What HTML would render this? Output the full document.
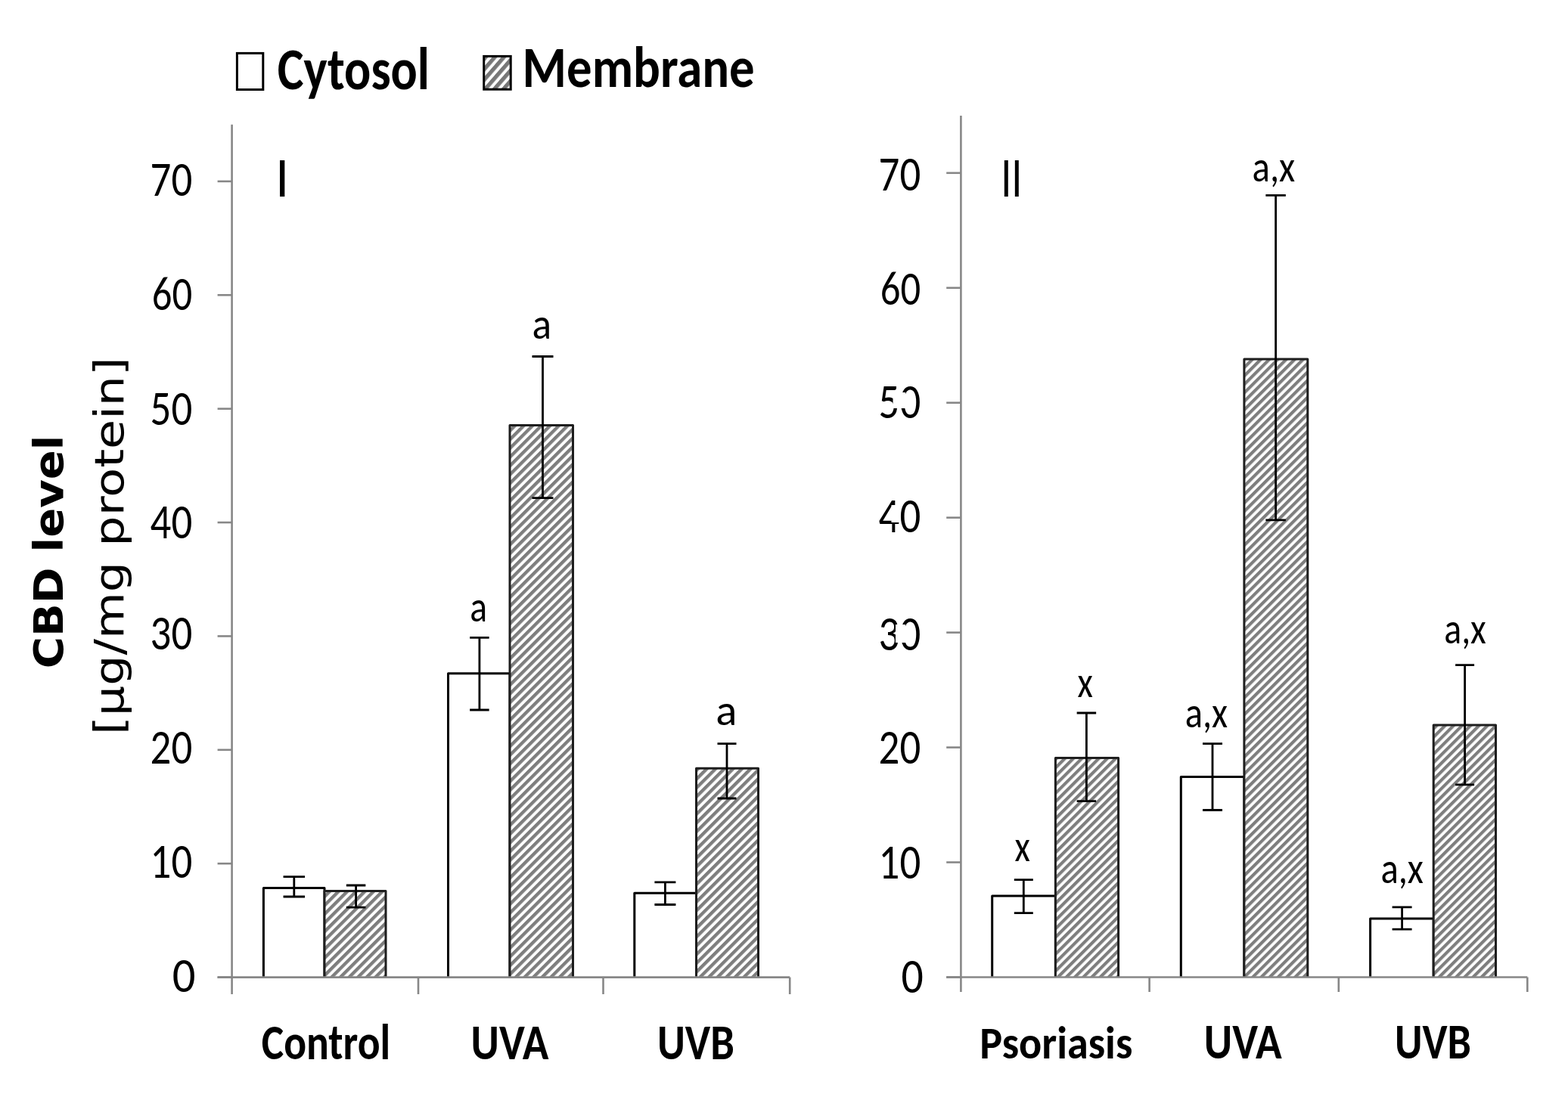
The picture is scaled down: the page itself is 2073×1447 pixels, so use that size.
<!DOCTYPE html>
<html><head><meta charset="utf-8"><title>CBD level chart</title>
<style>
html,body{margin:0;padding:0;background:#fff;}
body{width:2073px;height:1447px;overflow:hidden;}
svg{display:block;position:absolute;left:0;top:0;}
text.cr{font-size-adjust:cap-height 0.6416;}
text.cb{font-size-adjust:cap-height 0.6484;}
</style></head>
<body>
<svg width="2073" height="1447" viewBox="0 0 2073 1447">
<defs>
<pattern id="hatch" patternUnits="userSpaceOnUse" width="8.2" height="20" patternTransform="rotate(45)">
<rect width="8.2" height="20" fill="#fff"/><rect width="4.35" height="20" fill="#7e7e7e"/>
</pattern>
<pattern id="hatch2" patternUnits="userSpaceOnUse" width="7.92" height="20" patternTransform="rotate(45)">
<rect width="7.92" height="20" fill="#fff"/><rect width="4.2" height="20" fill="#7e7e7e"/>
</pattern>
<pattern id="hatchL" patternUnits="userSpaceOnUse" width="9.1" height="20" patternTransform="translate(640 74) rotate(41)">
<rect width="9.1" height="20" fill="#fff"/><rect width="5.2" height="20" fill="#777"/>
</pattern>
</defs>
<rect width="2073" height="1447" fill="#fff"/>
<rect x="348.40" y="1174.50" width="80.60" height="118.10" fill="#fff"/>
<path d="M348.40 1292.60V1174.50H429.00V1292.60" fill="none" stroke="#000" stroke-width="3.0" stroke-linejoin="round"/>
<rect x="429.00" y="1178.40" width="81.00" height="114.20" fill="url(#hatch)"/>
<path d="M429.00 1292.60V1178.40H510.00V1292.60" fill="none" stroke="#1e1e1e" stroke-width="3.0" stroke-linejoin="round"/>
<rect x="592.50" y="890.70" width="81.50" height="401.90" fill="#fff"/>
<path d="M592.50 1292.60V890.70H674.00V1292.60" fill="none" stroke="#000" stroke-width="3.0" stroke-linejoin="round"/>
<rect x="674.00" y="562.50" width="83.50" height="730.10" fill="url(#hatch)"/>
<path d="M674.00 1292.60V562.50H757.50V1292.60" fill="none" stroke="#1e1e1e" stroke-width="3.0" stroke-linejoin="round"/>
<rect x="838.80" y="1181.30" width="81.70" height="111.30" fill="#fff"/>
<path d="M838.80 1292.60V1181.30H920.50V1292.60" fill="none" stroke="#000" stroke-width="3.0" stroke-linejoin="round"/>
<rect x="920.50" y="1016.20" width="82.00" height="276.40" fill="url(#hatch)"/>
<path d="M920.50 1292.60V1016.20H1002.50V1292.60" fill="none" stroke="#1e1e1e" stroke-width="3.0" stroke-linejoin="round"/>
<rect x="1311.70" y="1185.00" width="83.70" height="107.50" fill="#fff"/>
<path d="M1311.70 1292.50V1185.00H1395.40V1292.50" fill="none" stroke="#000" stroke-width="3.0" stroke-linejoin="round"/>
<rect x="1395.40" y="1002.40" width="83.20" height="290.10" fill="url(#hatch2)"/>
<path d="M1395.40 1292.50V1002.40H1478.60V1292.50" fill="none" stroke="#1e1e1e" stroke-width="3.0" stroke-linejoin="round"/>
<rect x="1561.30" y="1027.60" width="83.60" height="264.90" fill="#fff"/>
<path d="M1561.30 1292.50V1027.60H1644.90V1292.50" fill="none" stroke="#000" stroke-width="3.0" stroke-linejoin="round"/>
<rect x="1644.90" y="475.00" width="83.90" height="817.50" fill="url(#hatch2)"/>
<path d="M1644.90 1292.50V475.00H1728.80V1292.50" fill="none" stroke="#1e1e1e" stroke-width="3.0" stroke-linejoin="round"/>
<rect x="1811.60" y="1214.90" width="83.60" height="77.60" fill="#fff"/>
<path d="M1811.60 1292.50V1214.90H1895.20V1292.50" fill="none" stroke="#000" stroke-width="3.0" stroke-linejoin="round"/>
<rect x="1895.20" y="959.10" width="82.30" height="333.40" fill="url(#hatch2)"/>
<path d="M1895.20 1292.50V959.10H1977.50V1292.50" fill="none" stroke="#1e1e1e" stroke-width="3.0" stroke-linejoin="round"/>
<line x1="306.6" y1="164.8" x2="306.6" y2="1315.0" stroke="#878787" stroke-width="2.6"/>
<line x1="287.6" y1="1292.6" x2="1044.2" y2="1292.6" stroke="#878787" stroke-width="2.6"/>
<line x1="287.6" y1="1292.60" x2="306.6" y2="1292.60" stroke="#878787" stroke-width="2.6"/>
<line x1="287.6" y1="1142.21" x2="306.6" y2="1142.21" stroke="#878787" stroke-width="2.6"/>
<line x1="287.6" y1="991.82" x2="306.6" y2="991.82" stroke="#878787" stroke-width="2.6"/>
<line x1="287.6" y1="841.43" x2="306.6" y2="841.43" stroke="#878787" stroke-width="2.6"/>
<line x1="287.6" y1="691.04" x2="306.6" y2="691.04" stroke="#878787" stroke-width="2.6"/>
<line x1="287.6" y1="540.65" x2="306.6" y2="540.65" stroke="#878787" stroke-width="2.6"/>
<line x1="287.6" y1="390.26" x2="306.6" y2="390.26" stroke="#878787" stroke-width="2.6"/>
<line x1="287.6" y1="239.87" x2="306.6" y2="239.87" stroke="#878787" stroke-width="2.6"/>
<line x1="553.0" y1="1292.6" x2="553.0" y2="1315.0" stroke="#878787" stroke-width="2.6"/>
<line x1="797.5" y1="1292.6" x2="797.5" y2="1315.0" stroke="#878787" stroke-width="2.6"/>
<line x1="1044.2" y1="1292.6" x2="1044.2" y2="1315.0" stroke="#878787" stroke-width="2.6"/>
<line x1="1270.4" y1="152.9" x2="1270.4" y2="1312.0" stroke="#878787" stroke-width="2.6"/>
<line x1="1251.2" y1="1292.5" x2="2019.3" y2="1292.5" stroke="#878787" stroke-width="2.6"/>
<line x1="1251.2" y1="1292.50" x2="1270.4" y2="1292.50" stroke="#878787" stroke-width="2.6"/>
<line x1="1251.2" y1="1140.54" x2="1270.4" y2="1140.54" stroke="#878787" stroke-width="2.6"/>
<line x1="1251.2" y1="988.58" x2="1270.4" y2="988.58" stroke="#878787" stroke-width="2.6"/>
<line x1="1251.2" y1="836.62" x2="1270.4" y2="836.62" stroke="#878787" stroke-width="2.6"/>
<line x1="1251.2" y1="684.66" x2="1270.4" y2="684.66" stroke="#878787" stroke-width="2.6"/>
<line x1="1251.2" y1="532.70" x2="1270.4" y2="532.70" stroke="#878787" stroke-width="2.6"/>
<line x1="1251.2" y1="380.74" x2="1270.4" y2="380.74" stroke="#878787" stroke-width="2.6"/>
<line x1="1251.2" y1="228.78" x2="1270.4" y2="228.78" stroke="#878787" stroke-width="2.6"/>
<line x1="1519.6" y1="1292.5" x2="1519.6" y2="1312.0" stroke="#878787" stroke-width="2.6"/>
<line x1="1769.8" y1="1292.5" x2="1769.8" y2="1312.0" stroke="#878787" stroke-width="2.6"/>
<line x1="2019.3" y1="1292.5" x2="2019.3" y2="1312.0" stroke="#878787" stroke-width="2.6"/>
<path d="M388.80 1159.70V1186.00M374.55 1159.70H403.05M374.55 1186.00H403.05" stroke="#000" stroke-width="2.8" fill="none"/>
<path d="M470.60 1171.00V1200.20M457.85 1171.00H483.35M457.85 1200.20H483.35" stroke="#000" stroke-width="2.8" fill="none"/>
<path d="M633.90 843.40V939.00M621.15 843.40H646.65M621.15 939.00H646.65" stroke="#000" stroke-width="2.8" fill="none"/>
<path d="M717.50 471.50V658.60M703.50 471.50H731.50M703.50 658.60H731.50" stroke="#000" stroke-width="2.8" fill="none"/>
<path d="M879.40 1166.90V1196.50M865.40 1166.90H893.40M865.40 1196.50H893.40" stroke="#000" stroke-width="2.8" fill="none"/>
<path d="M961.00 983.60V1056.00M948.50 983.60H973.50M948.50 1056.00H973.50" stroke="#000" stroke-width="2.8" fill="none"/>
<path d="M1353.30 1163.60V1207.60M1340.80 1163.60H1365.80M1340.80 1207.60H1365.80" stroke="#000" stroke-width="2.8" fill="none"/>
<path d="M1436.40 943.00V1059.70M1423.65 943.00H1449.15M1423.65 1059.70H1449.15" stroke="#000" stroke-width="2.8" fill="none"/>
<path d="M1603.00 983.60V1071.50M1590.00 983.60H1616.00M1590.00 1071.50H1616.00" stroke="#000" stroke-width="2.8" fill="none"/>
<path d="M1686.60 258.40V687.80M1673.35 258.40H1699.85M1673.35 687.80H1699.85" stroke="#000" stroke-width="2.8" fill="none"/>
<path d="M1853.60 1199.80V1229.20M1840.60 1199.80H1866.60M1840.60 1229.20H1866.60" stroke="#000" stroke-width="2.8" fill="none"/>
<path d="M1936.60 879.70V1037.80M1924.10 879.70H1949.10M1924.10 1037.80H1949.10" stroke="#000" stroke-width="2.8" fill="none"/>
<text class="cr" x="227.83" y="1312.05" font-family="Carlito, 'Liberation Sans', sans-serif" font-weight="normal" font-size="66.49" textLength="30.74" lengthAdjust="spacingAndGlyphs" fill="#000">0</text>
<text class="cr" x="198.62" y="1161.15" font-family="Carlito, 'Liberation Sans', sans-serif" font-weight="normal" font-size="66.49" textLength="55.60" lengthAdjust="spacingAndGlyphs" fill="#000">10</text>
<text class="cr" x="198.62" y="1010.35" font-family="Carlito, 'Liberation Sans', sans-serif" font-weight="normal" font-size="66.49" textLength="55.60" lengthAdjust="spacingAndGlyphs" fill="#000">20</text>
<text class="cr" x="198.62" y="859.45" font-family="Carlito, 'Liberation Sans', sans-serif" font-weight="normal" font-size="66.49" textLength="55.60" lengthAdjust="spacingAndGlyphs" fill="#000">30</text>
<text class="cr" x="198.62" y="711.85" font-family="Carlito, 'Liberation Sans', sans-serif" font-weight="normal" font-size="66.49" textLength="55.60" lengthAdjust="spacingAndGlyphs" fill="#000">40</text>
<text class="cr" x="198.62" y="561.55" font-family="Carlito, 'Liberation Sans', sans-serif" font-weight="normal" font-size="66.49" textLength="55.60" lengthAdjust="spacingAndGlyphs" fill="#000">50</text>
<text class="cr" x="200.75" y="410.23" font-family="Carlito, 'Liberation Sans', sans-serif" font-weight="normal" font-size="63.87" textLength="53.41" lengthAdjust="spacingAndGlyphs" fill="#000">60</text>
<text class="cr" x="198.62" y="259.45" font-family="Carlito, 'Liberation Sans', sans-serif" font-weight="normal" font-size="66.49" textLength="55.60" lengthAdjust="spacingAndGlyphs" fill="#000">70</text>
<text class="cr" x="1191.40" y="1312.55" font-family="Carlito, 'Liberation Sans', sans-serif" font-weight="normal" font-size="66.49" textLength="29.29" lengthAdjust="spacingAndGlyphs" fill="#000">0</text>
<text class="cr" x="1161.62" y="1161.85" font-family="Carlito, 'Liberation Sans', sans-serif" font-weight="normal" font-size="66.49" textLength="55.60" lengthAdjust="spacingAndGlyphs" fill="#000">10</text>
<text class="cr" x="1161.62" y="1010.35" font-family="Carlito, 'Liberation Sans', sans-serif" font-weight="normal" font-size="66.49" textLength="55.60" lengthAdjust="spacingAndGlyphs" fill="#000">20</text>
<text class="cr" x="1161.62" y="859.75" font-family="Carlito, 'Liberation Sans', sans-serif" font-weight="normal" font-size="66.49" textLength="55.60" lengthAdjust="spacingAndGlyphs" fill="#000">30</text>
<text class="cr" x="1161.62" y="704.45" font-family="Carlito, 'Liberation Sans', sans-serif" font-weight="normal" font-size="66.49" textLength="55.60" lengthAdjust="spacingAndGlyphs" fill="#000">40</text>
<text class="cr" x="1161.62" y="553.25" font-family="Carlito, 'Liberation Sans', sans-serif" font-weight="normal" font-size="66.49" textLength="55.60" lengthAdjust="spacingAndGlyphs" fill="#000">50</text>
<text class="cr" x="1163.75" y="403.23" font-family="Carlito, 'Liberation Sans', sans-serif" font-weight="normal" font-size="63.87" textLength="53.41" lengthAdjust="spacingAndGlyphs" fill="#000">60</text>
<text class="cr" x="1161.62" y="251.85" font-family="Carlito, 'Liberation Sans', sans-serif" font-weight="normal" font-size="66.49" textLength="55.60" lengthAdjust="spacingAndGlyphs" fill="#000">70</text>
<rect x="1180.5" y="519" width="16.5" height="21" fill="#fff"/>
<rect x="1178.5" y="668" width="12" height="23" fill="#fff"/>
<rect x="1184" y="826" width="13" height="24" fill="#fff"/>
<text class="cr" x="364.22" y="260.00" font-family="Carlito, 'Liberation Sans', sans-serif" font-weight="normal" font-size="74.66" textLength="17.86" lengthAdjust="spacingAndGlyphs" fill="#000">I</text>
<text class="cr" x="1323.13" y="260.00" font-family="Carlito, 'Liberation Sans', sans-serif" font-weight="normal" font-size="74.66" textLength="28.24" lengthAdjust="spacingAndGlyphs" fill="#000">II</text>
<text class="cr" x="621.15" y="822.19" font-family="Carlito, 'Liberation Sans', sans-serif" font-weight="normal" font-size="57.40" textLength="22.78" lengthAdjust="spacingAndGlyphs" fill="#000">a</text>
<text class="cr" x="703.51" y="447.79" font-family="Carlito, 'Liberation Sans', sans-serif" font-weight="normal" font-size="57.40" textLength="25.57" lengthAdjust="spacingAndGlyphs" fill="#000">a</text>
<text class="cr" x="946.19" y="958.69" font-family="Carlito, 'Liberation Sans', sans-serif" font-weight="normal" font-size="57.40" textLength="28.12" lengthAdjust="spacingAndGlyphs" fill="#000">a</text>
<text class="cr" x="1341.47" y="1138.91" font-family="Carlito, 'Liberation Sans', sans-serif" font-weight="normal" font-size="57.40" textLength="20.36" lengthAdjust="spacingAndGlyphs" fill="#000">x</text>
<text class="cr" x="1424.57" y="922.11" font-family="Carlito, 'Liberation Sans', sans-serif" font-weight="normal" font-size="57.40" textLength="20.36" lengthAdjust="spacingAndGlyphs" fill="#000">x</text>
<text class="cr" x="1566.71" y="962.19" font-family="Carlito, 'Liberation Sans', sans-serif" font-weight="normal" font-size="57.40" textLength="56.44" lengthAdjust="spacingAndGlyphs" fill="#000">a,x</text>
<text class="cr" x="1655.60" y="240.29" font-family="Carlito, 'Liberation Sans', sans-serif" font-weight="normal" font-size="57.40" textLength="56.65" lengthAdjust="spacingAndGlyphs" fill="#000">a,x</text>
<text class="cr" x="1825.40" y="1167.59" font-family="Carlito, 'Liberation Sans', sans-serif" font-weight="normal" font-size="57.40" textLength="56.54" lengthAdjust="spacingAndGlyphs" fill="#000">a,x</text>
<text class="cr" x="1909.24" y="851.19" font-family="Carlito, 'Liberation Sans', sans-serif" font-weight="normal" font-size="57.40" textLength="55.60" lengthAdjust="spacingAndGlyphs" fill="#000">a,x</text>
<text class="cb" x="345.77" y="1400.91" font-family="Carlito, 'Liberation Sans', sans-serif" font-weight="bold" font-size="67.42" textLength="170.37" lengthAdjust="spacingAndGlyphs" fill="#000">Control</text>
<text class="cb" x="622.56" y="1400.51" font-family="Carlito, 'Liberation Sans', sans-serif" font-weight="bold" font-size="67.10" textLength="102.76" lengthAdjust="spacingAndGlyphs" fill="#000">UVA</text>
<text class="cb" x="868.91" y="1400.51" font-family="Carlito, 'Liberation Sans', sans-serif" font-weight="bold" font-size="67.10" textLength="101.94" lengthAdjust="spacingAndGlyphs" fill="#000">UVB</text>
<text class="cb" x="1295.36" y="1399.56" font-family="Carlito, 'Liberation Sans', sans-serif" font-weight="bold" font-size="60.09" textLength="201.97" lengthAdjust="spacingAndGlyphs" fill="#000">Psoriasis</text>
<text class="cb" x="1591.86" y="1400.01" font-family="Carlito, 'Liberation Sans', sans-serif" font-weight="bold" font-size="66.34" textLength="102.76" lengthAdjust="spacingAndGlyphs" fill="#000">UVA</text>
<text class="cb" x="1843.94" y="1400.01" font-family="Carlito, 'Liberation Sans', sans-serif" font-weight="bold" font-size="66.34" textLength="100.89" lengthAdjust="spacingAndGlyphs" fill="#000">UVB</text>
<rect x="313.4" y="70.4" width="34.4" height="48.1" fill="#fff" stroke="#000" stroke-width="3"/>
<rect x="639.7" y="74.4" width="35.5" height="43.8" fill="url(#hatchL)" stroke="#000" stroke-width="3"/>
<text class="cb" x="366.86" y="117.86" font-family="Carlito, 'Liberation Sans', sans-serif" font-weight="bold" font-size="79.75" textLength="201.11" lengthAdjust="spacingAndGlyphs" fill="#000">Cytosol</text>
<text class="cb" x="690.58" y="115.44" font-family="Carlito, 'Liberation Sans', sans-serif" font-weight="bold" font-size="76.31" textLength="307.13" lengthAdjust="spacingAndGlyphs" fill="#000">Membrane</text>
<text transform="translate(83.45,884.26) scale(0.9190,1) rotate(-90)" x="0" y="0" font-family="'DejaVu Sans', Verdana, sans-serif" font-weight="bold" font-size="57.50" textLength="308.69" lengthAdjust="spacingAndGlyphs" fill="#000">CBD level</text>
<text transform="translate(163.25,971.94) scale(0.8386,1) rotate(-90)" x="0" y="0" font-family="'DejaVu Sans', Verdana, sans-serif" font-weight="normal" font-size="63.33" textLength="499.79" lengthAdjust="spacingAndGlyphs" fill="#000">[µg/mg protein]</text>
</svg>
</body></html>
